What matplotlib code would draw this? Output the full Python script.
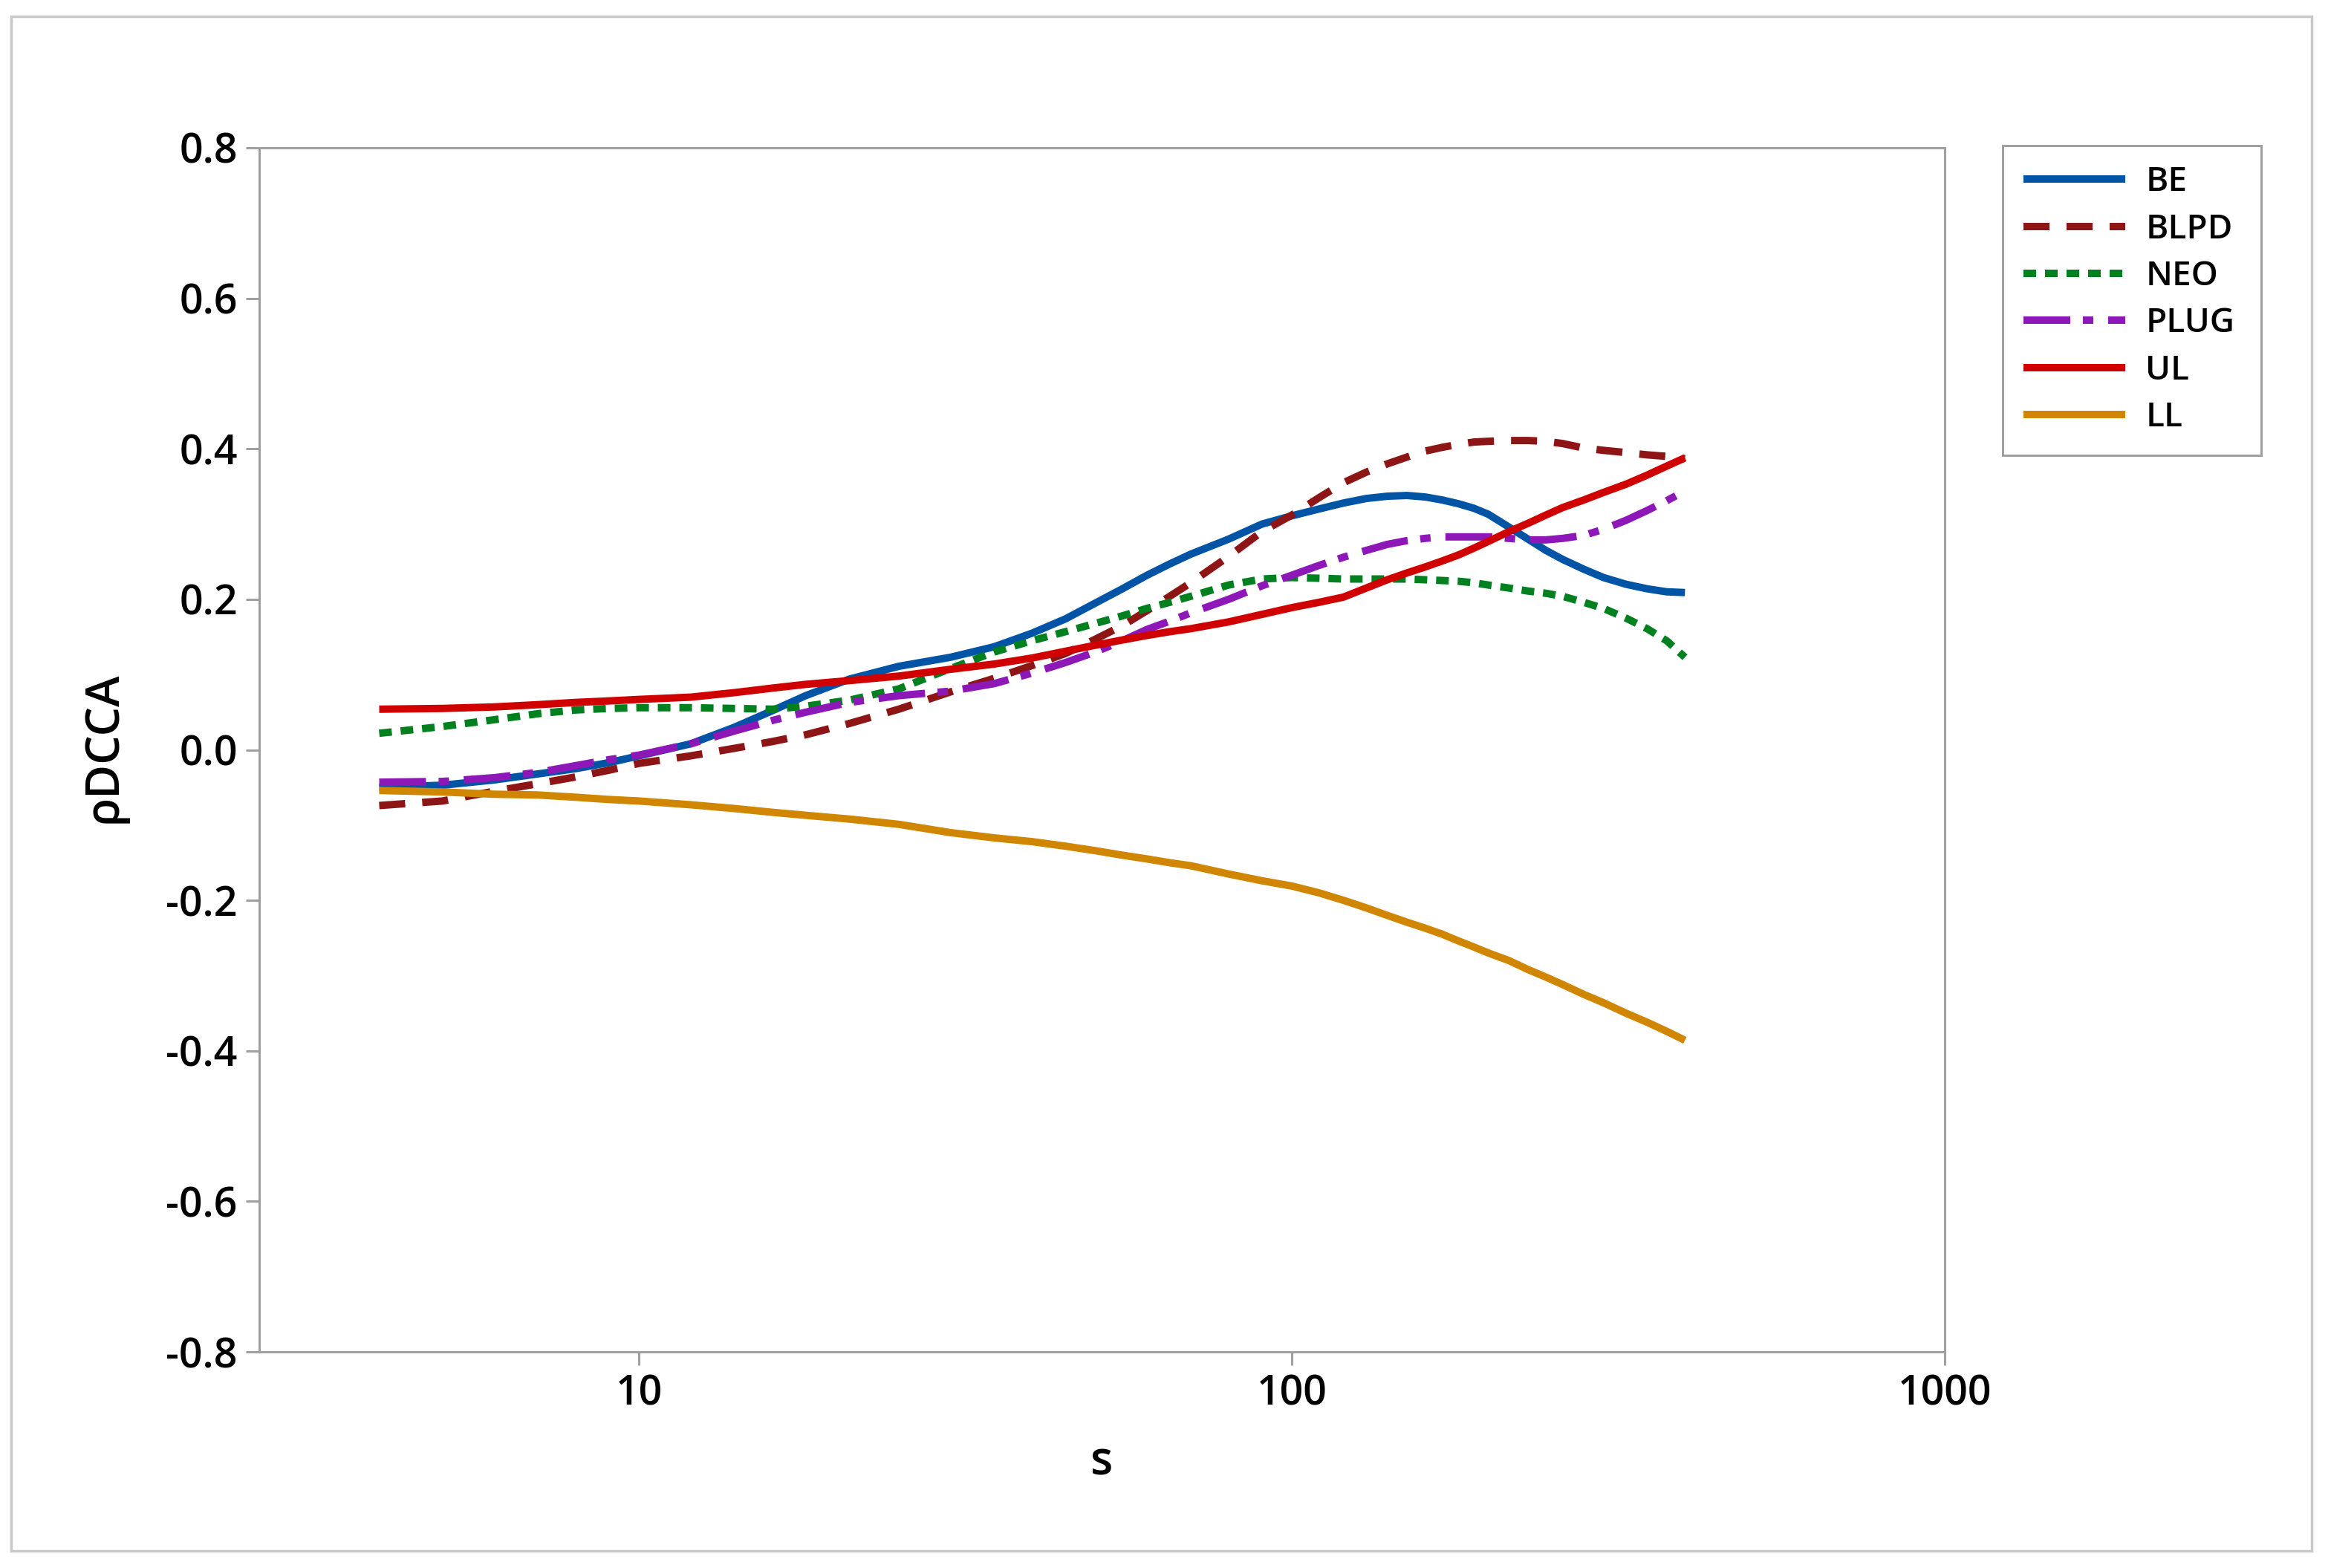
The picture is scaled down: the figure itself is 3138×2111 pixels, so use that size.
import matplotlib
matplotlib.use("Agg")
import matplotlib.pyplot as plt
from matplotlib.patches import Rectangle

plt.rcParams['font.family'] = ['Open Sans', 'DejaVu Sans']
plt.rcParams['font.weight'] = 'semibold'

# ---- data ----
s = [4, 5, 6, 7, 8, 9, 10, 12, 14, 16, 18, 21, 25, 30, 35, 40, 45, 50, 55, 60, 65, 70, 80, 90,
     100, 110, 120, 130, 140, 150, 160, 170, 180, 190, 200, 215, 230, 245, 260, 280, 300,
     325, 350, 375, 400]

be = [-0.050, -0.047, -0.040, -0.032, -0.025, -0.017, -0.008, 0.008, 0.030, 0.052, 0.072, 0.094,
      0.111, 0.123, 0.137, 0.155, 0.174, 0.195, 0.214, 0.232, 0.247, 0.260, 0.280, 0.300,
      0.311, 0.320, 0.328, 0.334, 0.337, 0.338, 0.336, 0.332, 0.327, 0.321, 0.313, 0.296,
      0.280, 0.265, 0.253, 0.240, 0.229, 0.220, 0.214, 0.210, 0.209]

blpd = [-0.074, -0.068, -0.055, -0.045, -0.036, -0.027, -0.018, -0.008, 0.002, 0.011, 0.020, 0.035,
        0.054, 0.077, 0.095, 0.112, 0.128, 0.147, 0.165, 0.185, 0.204, 0.222, 0.257, 0.290,
        0.312, 0.335, 0.355, 0.369, 0.380, 0.389, 0.397, 0.402, 0.406, 0.409, 0.410, 0.411,
        0.411, 0.410, 0.407, 0.401, 0.398, 0.395, 0.392, 0.390, 0.387]

neo = [0.022, 0.031, 0.040, 0.048, 0.053, 0.055, 0.056, 0.056, 0.055, 0.054, 0.058, 0.066,
       0.081, 0.108, 0.130, 0.145, 0.157, 0.168, 0.178, 0.188, 0.196, 0.204, 0.219, 0.227,
       0.229, 0.228, 0.227, 0.227, 0.227, 0.227, 0.226, 0.225, 0.224, 0.222, 0.219, 0.215,
       0.211, 0.208, 0.204, 0.196, 0.188, 0.175, 0.161, 0.145, 0.123]

plug = [-0.043, -0.042, -0.037, -0.030, -0.021, -0.013, -0.007, 0.008, 0.025, 0.039, 0.050, 0.063,
        0.072, 0.078, 0.088, 0.102, 0.116, 0.130, 0.145, 0.160, 0.171, 0.182, 0.200, 0.218,
        0.232, 0.245, 0.256, 0.265, 0.273, 0.278, 0.281, 0.283, 0.283, 0.283, 0.283, 0.281,
        0.279, 0.279, 0.281, 0.285, 0.293, 0.305, 0.318, 0.331, 0.344]

ul = [0.054, 0.055, 0.057, 0.060, 0.063, 0.065, 0.067, 0.070, 0.076, 0.082, 0.087, 0.092,
      0.098, 0.107, 0.114, 0.122, 0.131, 0.139, 0.146, 0.152, 0.157, 0.161, 0.170, 0.180,
      0.189, 0.196, 0.203, 0.215, 0.226, 0.235, 0.243, 0.251, 0.259, 0.268, 0.277, 0.290,
      0.301, 0.312, 0.322, 0.332, 0.342, 0.353, 0.365, 0.377, 0.388]

ll = [-0.054, -0.056, -0.059, -0.060, -0.063, -0.066, -0.068, -0.073, -0.078, -0.083, -0.087, -0.092,
      -0.099, -0.110, -0.117, -0.122, -0.128, -0.134, -0.140, -0.145, -0.150, -0.154, -0.165, -0.174,
      -0.181, -0.190, -0.200, -0.210, -0.220, -0.229, -0.237, -0.245, -0.254, -0.262, -0.270, -0.280,
      -0.292, -0.302, -0.312, -0.325, -0.336, -0.350, -0.362, -0.374, -0.386]

labels = ["BE", "BLPD", "NEO", "PLUG", "UL", "LL"]
yticks = [-0.8, -0.6, -0.4, -0.2, 0.0, 0.2, 0.4, 0.6, 0.8]
xticks = [10, 100, 1000]

# ---- figure ----
W, H = 3138, 2111
fig = plt.figure(figsize=(W / 100, H / 100), dpi=100)
ax = fig.add_axes([349 / W, 1 - 1820 / H, (2618 - 349) / W, (1820 - 199) / H])

lw = 7.2
styles = [
    dict(color="#0054A6", linestyle="-"),
    dict(color="#8E1515", linestyle=(0, (3.5, 2.3))),
    dict(color="#00801F", linestyle=(0, (1.7, 1.2))),
    dict(color="#8E17B7", linestyle=(0, (6.3, 1.7, 1.4, 2.0))),
    dict(color="#D10000", linestyle="-"),
    dict(color="#D08600", linestyle="-"),
]
series = [be, blpd, neo, plug, ul, ll]
for ys, lab, st in zip(series, labels, styles):
    ax.plot(s, ys, lw=lw, label=lab, solid_capstyle="butt", dash_capstyle="butt",
            solid_joinstyle="round", **st)

ax.set_xscale("log")
ax.set_xlim(2.62, 1000)
ax.set_ylim(-0.8, 0.8)
ax.set_xticks(xticks)
ax.set_xticklabels([str(v) for v in xticks])
ax.xaxis.set_minor_locator(matplotlib.ticker.NullLocator())
ax.set_yticks(yticks)
ax.set_yticklabels([f"{v:.1f}" for v in yticks])

gray = "#A0A0A0"
for sp in ax.spines.values():
    sp.set_color(gray)
    sp.set_linewidth(2.2)
ax.tick_params(axis="both", which="major", direction="out", length=13, width=2.2,
               color=gray, labelsize=40, labelcolor="black", pad=8)

fig.text(1483 / W, 1 - 1985 / H, "s", ha="center", va="baseline", fontsize=45)
fig.text(140 / W, 1 - 1006 / H, "ρDCCA", ha="center", va="center", rotation=90, fontsize=45)

leg = ax.legend(loc="upper left", bbox_to_anchor=(2696 / W, 1 - 198 / H, (3044 - 2696) / W, 0.001),
                bbox_transform=fig.transFigure, mode="expand", fontsize=33,
                handlelength=3.0, handletextpad=0.6, labelspacing=0.40,
                borderpad=0.6, borderaxespad=0, fancybox=False, frameon=True)
frame = leg.get_frame()
frame.set_edgecolor(gray)
frame.set_linewidth(2.2)
frame.set_alpha(1)

fig.patches.append(Rectangle((15 / W, 1 - 2088 / H), (3112 - 15) / W, (2088 - 22) / H,
                             transform=fig.transFigure, fill=False,
                             edgecolor="#C8C8C8", linewidth=2.5))

fig.savefig("out.png", dpi=100, facecolor="white")
